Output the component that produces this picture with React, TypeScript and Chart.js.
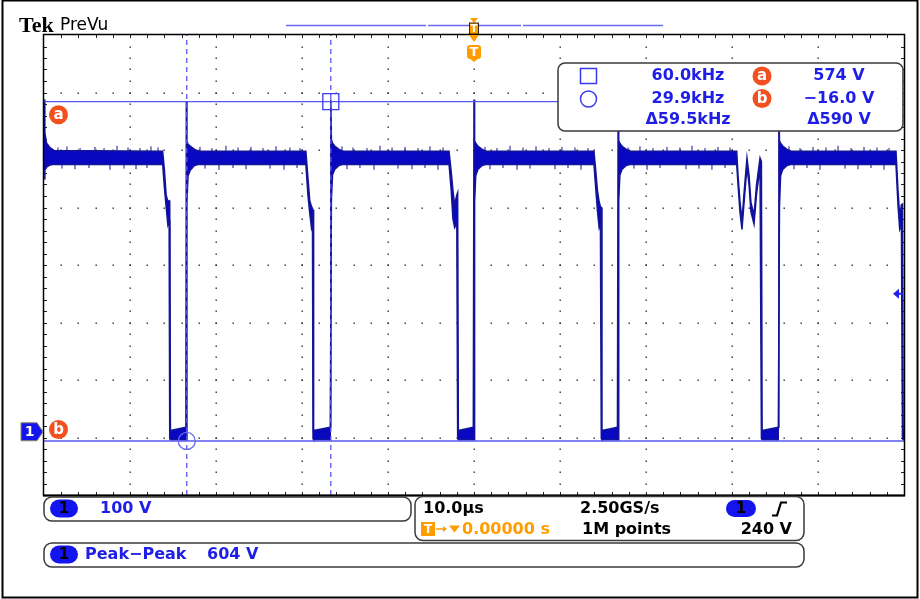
import React, { useEffect, useRef } from 'react';
import { Chart, registerables } from 'chart.js';

Chart.register(...registerables);

// Horizontal: 10.0 µs/div, 10 divisions, trigger at centre
const timeMin = -50;
const timeMax = 50;
const timeMajor = 10;
const timeMinor = 2;
// Vertical: 100 V/div, 8 divisions
const voltMin = -110;
const voltMax = 690;
const voltMajor = 100;
const voltMinor = 20;

// Trace envelope (µs, upper V, lower V)
const traceTime = [
  -50.0, -49.9, -49.7, -49.3, -48.8, -36.2, -36.0, -35.8, -35.6, -35.45, -35.38, -35.3, -33.5, -33.45, -33.38, -33.25, -33.0, -32.5, -32.0,
  -19.55, -19.3, -19.1, -18.9, -18.78, -18.72, -18.65, -16.72, -16.65, -16.58, -16.45, -16.2, -15.7, -15.2,
  -2.9, -2.65, -2.45, -2.25, -2.0, -1.9, -1.82, -0.08, 0.0, 0.07, 0.2, 0.45, 0.95, 1.45,
  13.95, 14.15, 14.35, 14.55, 14.7, 14.8, 14.88, 16.68, 16.76, 16.83, 16.96, 17.2, 17.7, 18.2,
  30.55, 30.7, 30.93, 31.16, 31.45, 31.74, 31.98, 32.2, 32.56, 32.85, 33.26, 33.42, 33.5, 35.38, 35.45, 35.52, 35.65, 35.9, 36.4, 36.9,
  49.07, 49.3, 49.5, 49.7, 49.82, 49.9, 50.0,
];
const traceHigh = [
  578, 520, 502, 494, 489, 488, 455, 412, 400, 402, 400, 2, 8, 575, 505, 500, 497, 491, 488,
  488, 440, 402, 392, 388, 386, 2, 8, 578, 508, 502, 497, 491, 488,
  488, 452, 420, 395, 412, 416, 2, 8, 578, 506, 502, 497, 491, 488,
  488, 455, 420, 400, 392, 390, 2, 8, 578, 506, 502, 497, 491, 488,
  488, 445, 400, 368, 424, 476, 446, 399, 377, 429, 476, 470, 2, 8, 578, 506, 502, 497, 491, 488,
  488, 420, 375, 395, 396, 2, 4,
];
const traceLow = [
  440, 455, 460, 464, 465, 465, 425, 392, 360, 368, -12, -14, -14, -14, 400, 445, 455, 463, 465,
  465, 410, 380, 355, 362, -12, -14, -14, -14, 405, 447, 456, 463, 465,
  465, 420, 370, 355, 362, -12, -14, -14, -14, 400, 445, 456, 463, 465,
  465, 425, 385, 355, 362, -12, -14, -14, -14, 402, 446, 456, 463, 465,
  465, 430, 382, 352, 408, 460, 430, 383, 361, 413, 460, -12, -14, -14, -14, 392, 445, 456, 463, 465,
  465, 395, 352, 360, -12, -14, -14,
];

// Noise glitches riding on the top level (µs, V at glitch centre)
const glitchTime = [
  -48.37, -47.91, -47.33, -46.4, -45.81, -44.77, -44.07, -43.02, -42.33, -41.51, -40.7, -40.23, -39.3, -38.84, -38.02, -37.56, -36.74,
  -31.86, -31.28, -30.47, -29.65, -28.84, -28.02, -27.44, -26.51, -25.93, -24.53, -23.72, -23.02, -22.09, -21.4, -20.58, -20.23,
  -15.35, -14.77, -14.07, -13.26, -12.44, -11.63, -10.93, -9.53, -8.84, -8.02, -7.21, -6.51, -5.7, -5.12, -4.19, -3.6,
  1.28, 1.86, 2.67, 3.37, 4.19, 5.0, 5.7, 6.51, 7.21, 8.72, 9.42, 10.23, 10.93, 11.74, 12.44, 13.26,
  17.91, 18.6, 19.3, 20.12, 20.81, 21.63, 22.44, 23.95, 24.65, 25.35, 26.16, 26.86, 27.67, 28.37, 29.19, 29.77,
  36.63, 37.21, 37.91, 38.72, 39.42, 40.23, 40.93, 42.33, 43.14, 43.84, 44.65, 45.35, 46.16, 46.86, 47.67, 48.26,
];
const glitchVolt = [
  490, 462, 492, 461, 489, 463, 491, 489, 460, 493, 462, 490, 461, 489, 463, 492, 490,
  491, 462, 489, 460, 493, 463, 490, 461, 491, 489, 462, 492, 460, 490, 463, 489,
  492, 461, 490, 463, 489, 460, 493, 490, 462, 491, 461, 489, 463, 492, 460, 490,
  491, 461, 489, 463, 493, 460, 490, 462, 492, 489, 461, 491, 463, 490, 460, 489,
  490, 462, 492, 460, 489, 463, 491, 490, 461, 493, 462, 489, 460, 491, 463, 490,
  492, 461, 489, 463, 491, 460, 490, 493, 462, 489, 461, 491, 463, 490, 460, 489,
];

const cursorTimes = [-33.4, -16.65];
const cursorVolts = [574, -16];
const triggerLevel = 240;
const triggerTime = 0;

const readoutFreq = ['60.0kHz', '29.9kHz', 'Δ59.5kHz'];
const readoutVolt = ['574 V', '−16.0 V', 'Δ590 V'];
const channelScale = '100 V';
const measureLabel = 'Peak−Peak';
const measureValue = '604 V';
const timebase = '10.0µs';
const sampleRate = '2.50GS/s';
const recordLength = '1M points';
const triggerOffset = '0.00000 s';
const triggerLevelLabel = '240 V';

const FONT = '"DejaVu Sans", sans-serif';
const TRACE_FILL = '#0808c0';
const TRACE_EDGE = '#141496';
const CURSOR = '#5858f2';
const TEXT_BLUE = '#1e1ee6';
const PILL_BLUE = '#1414ee';
const ORANGE = '#ff9c00';
const BADGE = '#f2501c';

function badge(ctx: CanvasRenderingContext2D, cx: number, cy: number, letter: string) {
  ctx.beginPath();
  ctx.arc(cx, cy, 9.5, 0, Math.PI * 2);
  ctx.fillStyle = BADGE;
  ctx.fill();
  ctx.fillStyle = '#fff';
  ctx.font = `bold 15px ${FONT}`;
  ctx.textAlign = 'center';
  ctx.textBaseline = 'middle';
  ctx.fillText(letter, cx, cy + 0.5);
}

function pill(ctx: CanvasRenderingContext2D, x: number, y: number, w: number, h: number, label: string) {
  ctx.beginPath();
  ctx.roundRect(x, y, w, h, h / 2);
  ctx.fillStyle = PILL_BLUE;
  ctx.fill();
  ctx.fillStyle = '#000';
  ctx.font = `bold 15px ${FONT}`;
  ctx.textAlign = 'center';
  ctx.textBaseline = 'middle';
  ctx.fillText(label, x + w / 2, y + h / 2 + 0.5);
}

function box(ctx: CanvasRenderingContext2D, x: number, y: number, w: number, h: number, r: number) {
  ctx.beginPath();
  ctx.roundRect(x, y, w, h, r);
  ctx.fillStyle = '#fff';
  ctx.fill();
  ctx.strokeStyle = '#3a3a3a';
  ctx.lineWidth = 1.5;
  ctx.stroke();
}

function text(ctx: CanvasRenderingContext2D, s: string, x: number, y: number, color: string, align: CanvasTextAlign = 'left', font = `bold 16px ${FONT}`) {
  ctx.fillStyle = color;
  ctx.font = font;
  ctx.textAlign = align;
  ctx.textBaseline = 'middle';
  ctx.fillText(s, x, y);
}

const scopePlugin = {
  id: 'scope',
  beforeDraw(chart: any) {
    const ctx = chart.ctx as CanvasRenderingContext2D;
    ctx.save();
    ctx.fillStyle = '#fff';
    ctx.fillRect(0, 0, chart.width, chart.height);
    ctx.restore();
  },
  beforeDatasetsDraw(chart: any) {
    const ctx = chart.ctx as CanvasRenderingContext2D;
    const { x, y } = chart.scales;
    const a = chart.chartArea;
    ctx.save();
    ctx.fillStyle = '#2a2a2a';
    const eps = 1e-6;
    for (let t = timeMin + timeMajor; t < timeMax - eps; t += timeMajor) {
      const px = Math.round(x.getPixelForValue(t));
      for (let v = voltMin + voltMinor; v < voltMax - eps; v += voltMinor) {
        const py = Math.round(y.getPixelForValue(v));
        ctx.fillRect(px - 0.5, py - 0.5, 1.4, 1.4);
      }
    }
    for (let v = voltMin + voltMajor; v < voltMax - eps; v += voltMajor) {
      const py = Math.round(y.getPixelForValue(v));
      for (let t = timeMin + timeMinor; t < timeMax - eps; t += timeMinor) {
        const px = Math.round(x.getPixelForValue(t));
        ctx.fillRect(px - 0.5, py - 0.5, 1.4, 1.4);
      }
    }
    ctx.strokeStyle = '#222';
    ctx.lineWidth = 1;
    ctx.beginPath();
    for (let t = timeMin + timeMinor; t < timeMax - eps; t += timeMinor) {
      const px = Math.round(x.getPixelForValue(t)) + 0.5;
      ctx.moveTo(px, a.top); ctx.lineTo(px, a.top + 3);
      ctx.moveTo(px, a.bottom); ctx.lineTo(px, a.bottom - 3);
    }
    for (let v = voltMin + voltMinor; v < voltMax - eps; v += voltMinor) {
      const py = Math.round(y.getPixelForValue(v)) + 0.5;
      ctx.moveTo(a.left, py); ctx.lineTo(a.left + 3, py);
      ctx.moveTo(a.right, py); ctx.lineTo(a.right - 3, py);
    }
    ctx.stroke();
    ctx.restore();
  },
  afterDraw(chart: any) {
    const ctx = chart.ctx as CanvasRenderingContext2D;
    const { x, y } = chart.scales;
    const a = chart.chartArea;
    ctx.save();

    ctx.strokeStyle = '#000';
    ctx.lineWidth = 2;
    ctx.strokeRect(2.5, 0.5, 915, 597);

    ctx.lineWidth = 1.5;
    ctx.strokeRect(a.left - 0.5, a.top - 0.5, a.right - a.left + 1, a.bottom - a.top + 1);
    ctx.lineWidth = 2;
    ctx.beginPath();
    ctx.moveTo(a.left - 1, a.bottom + 0.5);
    ctx.lineTo(a.right + 1, a.bottom + 0.5);
    ctx.stroke();

    text(ctx, 'Tek', 19, 26, '#000', 'left', `bold 22px "Liberation Serif", serif`);
    text(ctx, 'PreVu', 60, 26, '#000', 'left', `17px ${FONT}`);

    ctx.strokeStyle = '#6a6af0';
    ctx.lineWidth = 1.5;
    ctx.beginPath();
    ctx.moveTo(286, 25.5); ctx.lineTo(426, 25.5);
    ctx.moveTo(428, 25.5); ctx.lineTo(521, 25.5);
    ctx.moveTo(523, 25.5); ctx.lineTo(663, 25.5);
    ctx.stroke();

    const tx = x.getPixelForValue(triggerTime);
    ctx.fillStyle = ORANGE;
    ctx.beginPath();
    ctx.moveTo(tx - 4, 18); ctx.lineTo(tx + 4, 18); ctx.lineTo(tx, 23); ctx.closePath(); ctx.fill();
    ctx.fillRect(tx - 4.5, 23, 9, 11);
    ctx.strokeStyle = '#000';
    ctx.lineWidth = 0.8;
    ctx.strokeRect(tx - 4.5, 23, 9, 11);
    text(ctx, 'T', tx, 29, '#fff', 'center', `bold 10px ${FONT}`);
    ctx.fillStyle = ORANGE;
    ctx.beginPath();
    ctx.moveTo(tx - 5, 35); ctx.lineTo(tx + 5, 35); ctx.lineTo(tx, 42); ctx.closePath(); ctx.fill();
    ctx.beginPath();
    ctx.roundRect(tx - 7, 45, 14, 14, 3);
    ctx.fill();
    ctx.beginPath();
    ctx.moveTo(tx - 5, 58); ctx.lineTo(tx + 5, 58); ctx.lineTo(tx, 62); ctx.closePath(); ctx.fill();
    text(ctx, 'T', tx, 52.5, '#fff', 'center', `bold 13px ${FONT}`);

    badge(ctx, 58.5, y.getPixelForValue(cursorVolts[0]) + 13, 'a');
    badge(ctx, 58.5, y.getPixelForValue(cursorVolts[1]) - 11.5, 'b');

    const gy = y.getPixelForValue(0);
    ctx.beginPath();
    ctx.moveTo(21, gy - 9); ctx.lineTo(37, gy - 9); ctx.lineTo(43, gy); ctx.lineTo(37, gy + 9); ctx.lineTo(21, gy + 9); ctx.closePath();
    ctx.fillStyle = PILL_BLUE;
    ctx.fill();
    ctx.strokeStyle = '#8a8a6a';
    ctx.lineWidth = 1;
    ctx.stroke();
    text(ctx, '1', 29.5, gy + 0.5, '#fff', 'center', `bold 14px ${FONT}`);

    const ly = y.getPixelForValue(triggerLevel);
    ctx.fillStyle = '#2020f0';
    ctx.beginPath();
    ctx.moveTo(893, ly); ctx.lineTo(899, ly - 5); ctx.lineTo(899, ly + 5); ctx.closePath(); ctx.fill();
    ctx.fillRect(898, ly - 1, 5, 2);

    box(ctx, 558, 63, 345, 68, 7);
    ctx.strokeStyle = '#3a3aee';
    ctx.lineWidth = 1.5;
    ctx.strokeRect(580.5, 68.5, 16, 15);
    ctx.beginPath();
    ctx.arc(588.5, 99, 8, 0, Math.PI * 2);
    ctx.stroke();
    const rows = [76, 98.5, 120];
    readoutFreq.forEach((s, i) => text(ctx, s, 688, rows[i], TEXT_BLUE, 'center'));
    readoutVolt.forEach((s, i) => text(ctx, s, 839, rows[i], TEXT_BLUE, 'center'));
    badge(ctx, 762, rows[0], 'a');
    badge(ctx, 762, rows[1], 'b');

    box(ctx, 44, 497, 367, 24, 8);
    pill(ctx, 50, 499.5, 28, 18, '1');
    text(ctx, channelScale, 100, 508.5, TEXT_BLUE);

    box(ctx, 415, 496.5, 389, 44, 8);
    text(ctx, timebase, 423, 509, '#000');
    text(ctx, sampleRate, 580, 509, '#000');
    pill(ctx, 726, 500, 30, 17, '1');
    ctx.strokeStyle = '#000';
    ctx.lineWidth = 2.2;
    ctx.beginPath();
    ctx.moveTo(772, 515.5); ctx.lineTo(777, 515.5); ctx.lineTo(781, 502.5); ctx.lineTo(787, 502.5);
    ctx.stroke();
    ctx.fillStyle = ORANGE;
    ctx.fillRect(421, 522, 14, 14);
    text(ctx, 'T', 428, 529.5, '#fff', 'center', `bold 12px ${FONT}`);
    ctx.strokeStyle = ORANGE;
    ctx.fillStyle = ORANGE;
    ctx.lineWidth = 1.5;
    ctx.beginPath();
    ctx.moveTo(436, 529); ctx.lineTo(444, 529);
    ctx.stroke();
    ctx.beginPath();
    ctx.moveTo(447, 529); ctx.lineTo(443, 526); ctx.lineTo(443, 532); ctx.closePath(); ctx.fill();
    ctx.beginPath();
    ctx.moveTo(449, 525.5); ctx.lineTo(460, 525.5); ctx.lineTo(454.5, 532.5); ctx.closePath(); ctx.fill();
    text(ctx, triggerOffset, 462, 529.5, ORANGE);
    text(ctx, recordLength, 582, 529.5, '#000');
    text(ctx, triggerLevelLabel, 792, 529.5, '#000', 'right');

    box(ctx, 44, 543, 760, 24, 8);
    pill(ctx, 50, 545.5, 28, 18, '1');
    text(ctx, measureLabel, 85, 554.5, TEXT_BLUE);
    text(ctx, measureValue, 207, 554.5, TEXT_BLUE);

    ctx.restore();
  },
};

export default function App() {
  const ref = useRef<HTMLCanvasElement>(null);
  useEffect(() => {
    const hi = traceTime.map((t, i) => ({ x: t, y: traceHigh[i] }));
    const lo = traceTime.map((t, i) => ({ x: t, y: traceLow[i] }));
    const glitches = glitchTime.map((t, i) => ({ x: t, y: glitchVolt[i] }));
    const vLine = (t: number) => [{ x: t, y: voltMin }, { x: t, y: voltMax }];
    const hLine = (v: number) => [{ x: timeMin, y: v }, { x: timeMax, y: v }];
    const chart = new Chart(ref.current as HTMLCanvasElement, {
      type: 'line',
      data: {
        datasets: [
          { data: lo, borderColor: TRACE_EDGE, borderWidth: 1.5, fill: false, order: 10, pointRadius: 0 },
          { data: hi, borderColor: TRACE_EDGE, borderWidth: 1.5, fill: '-1', backgroundColor: TRACE_FILL, order: 10, pointRadius: 0 },
          {
            data: glitches, showLine: false, pointStyle: 'line', rotation: 90, pointRadius: 2.5,
            pointBorderColor: TRACE_EDGE, pointBorderWidth: 1, order: 9,
          },
          { data: hLine(cursorVolts[0]), borderColor: CURSOR, borderWidth: 1.3, pointRadius: 0, order: 1 },
          { data: hLine(cursorVolts[1]), borderColor: CURSOR, borderWidth: 1.5, pointRadius: 0, order: 1 },
          { data: vLine(cursorTimes[0]), borderColor: CURSOR, borderWidth: 1.3, borderDash: [5, 4], pointRadius: 0, order: 1 },
          { data: vLine(cursorTimes[1]), borderColor: CURSOR, borderWidth: 1.3, borderDash: [5, 4], pointRadius: 0, order: 1 },
          {
            data: [{ x: cursorTimes[1], y: cursorVolts[0] }], showLine: false, pointStyle: 'rect', pointRadius: 11.3,
            pointBorderColor: '#3a3aee', pointBackgroundColor: 'rgba(0,0,0,0)', pointBorderWidth: 1.3, order: 0,
          },
          {
            data: [{ x: cursorTimes[0], y: cursorVolts[1] }], showLine: false, pointStyle: 'circle', pointRadius: 8.5,
            pointBorderColor: '#6a6af4', pointBackgroundColor: 'rgba(0,0,0,0)', pointBorderWidth: 1.3, order: 0,
          },
        ] as any,
      },
      options: {
        responsive: false,
        animation: false,
        devicePixelRatio: 1,
        layout: { padding: { left: 44, right: 16, top: 35, bottom: 104 } },
        elements: { line: { tension: 0 }, point: { radius: 0 } },
        plugins: { legend: { display: false }, tooltip: { enabled: false } },
        scales: {
          x: { type: 'linear', min: timeMin, max: timeMax, display: false },
          y: { type: 'linear', min: voltMin, max: voltMax, display: false },
        },
      } as any,
      plugins: [scopePlugin],
    });
    return () => chart.destroy();
  }, []);
  return (
    <div style={{ position: 'fixed', left: 0, top: 0, width: 920, height: 599, background: '#fff' }}>
      <canvas ref={ref} width={920} height={599} style={{ display: 'block', width: 920, height: 599 }} />
    </div>
  );
}
